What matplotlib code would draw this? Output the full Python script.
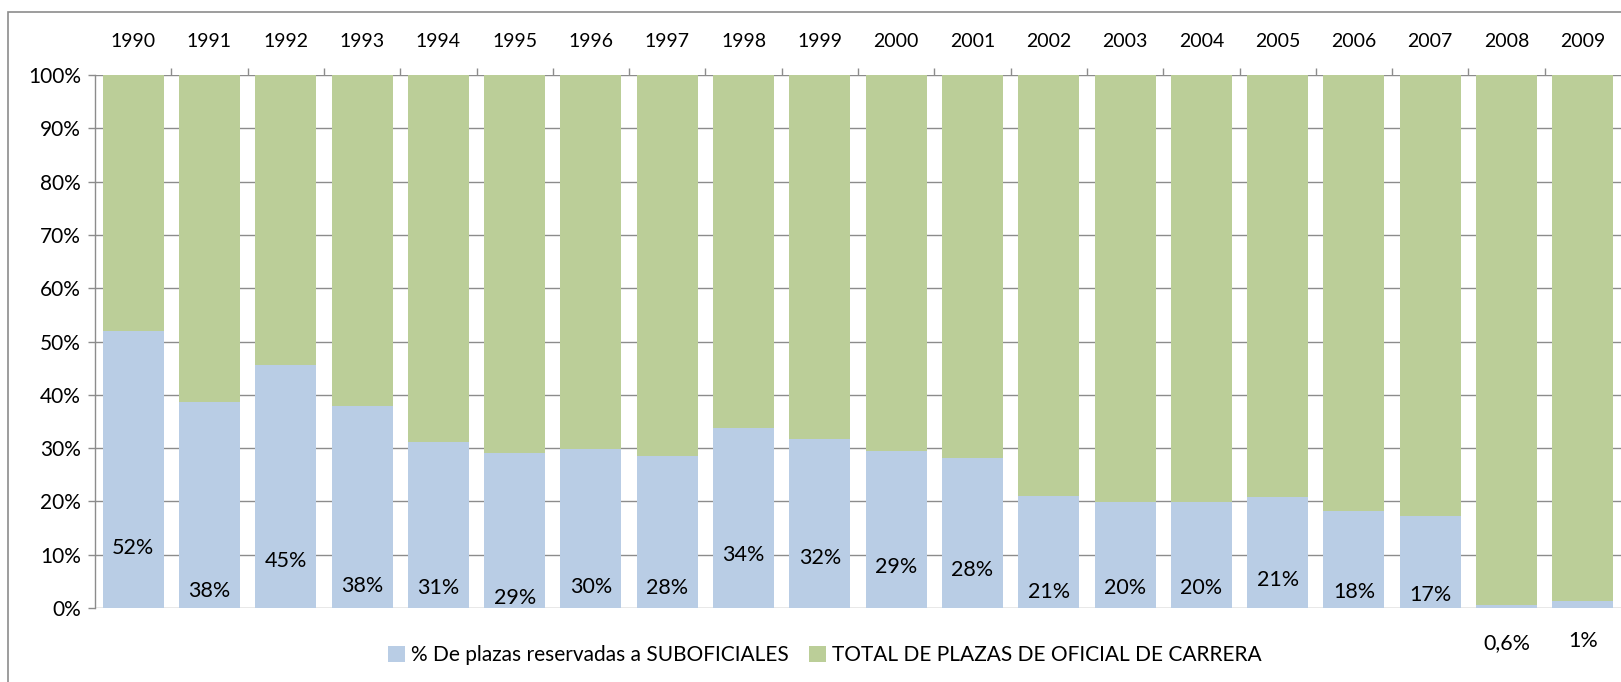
import numpy as np
import matplotlib
matplotlib.use("Agg")
import matplotlib.pyplot as plt
import matplotlib.patches as mpatches
from matplotlib.ticker import FixedLocator, FuncFormatter

# ── data ──────────────────────────────────────────────────────────────────────
years = [str(y) for y in range(1990, 2010)]
suboficiales = [52.0, 38.6, 45.6, 37.9, 31.1, 29.1, 29.8, 28.5, 33.8, 31.7,
                29.5, 28.1, 21.0, 19.9, 19.9, 20.8, 18.2, 17.3, 0.6, 1.3]
total_oficial = [100 - v for v in suboficiales]
label_text = ["52%", "38%", "45%", "38%", "31%", "29%", "30%", "28%", "34%", "32%",
              "29%", "28%", "21%", "20%", "20%", "21%", "18%", "17%", "0,6%", "1%"]
# vertical placement of the data labels (as in the original, hand-placed)
label_pos = [11.3, 3.2, 8.8, 4.1, 3.8, 1.9, 3.9, 3.8, 10.0, 9.3,
             7.6, 7.1, 3.0, 3.8, 3.8, 5.3, 3.0, 2.5, -6.5, -6.1]

BLUE  = "#B9CDE5"
GREEN = "#BBCE98"
GRID  = "#8C8C8C"

plt.rcParams["font.family"] = ["Lato", "DejaVu Sans"]

W, H = 1621, 682
fig = plt.figure(figsize=(W / 100, H / 100), dpi=100)
ax = fig.add_axes([95 / W, 1 - 608 / H, 1 - 95 / W, (608 - 75) / H])

x = np.arange(len(years))
ax.bar(x, suboficiales, width=0.8, color=BLUE, zorder=2,
       label="% De plazas reservadas a SUBOFICIALES")
ax.bar(x, total_oficial, width=0.8, bottom=suboficiales, color=GREEN, zorder=2,
       label="TOTAL DE PLAZAS DE OFICIAL DE CARRERA")

for xi, txt, yp in zip(x, label_text, label_pos):
    ax.text(xi, yp, txt, ha="center", va="center", fontsize=15.5,
            color="black", zorder=3, clip_on=False)

# axes styling
ax.set_xlim(-0.5, len(years) - 0.5)
ax.set_ylim(0, 100)
ax.set_yticks(np.arange(0, 101, 10))
ax.yaxis.set_major_formatter(FuncFormatter(lambda v, p: f"{int(v)}%"))
ax.grid(axis="y", color=GRID, linewidth=1.0, zorder=0)
ax.tick_params(axis="y", length=5, width=1, color=GRID, pad=5, labelsize=15)

ax.xaxis.tick_top()
ax.set_xticks(x)
ax.set_xticklabels(years)
ax.xaxis.set_minor_locator(FixedLocator(np.arange(0.5, len(years) - 0.5, 1)))
ax.tick_params(axis="x", which="major", length=0, pad=18, labelsize=14)
ax.tick_params(axis="x", which="minor", length=5, width=1, color=GRID, top=True, bottom=False)

for s in ["top", "right", "bottom"]:
    ax.spines[s].set_visible(False)
ax.spines["left"].set_color(GRID)
ax.spines["left"].set_linewidth(1.0)

# outer chart frame
frame = mpatches.Rectangle((8 / W, -0.05), 1.1, 1 - 12 / H + 0.05,
                           transform=fig.transFigure, fill=False,
                           edgecolor="#8C8C8C", linewidth=1.2, zorder=0)
fig.patches.append(frame)

handles, labels = ax.get_legend_handles_labels()
fig.legend(handles, labels, loc="center", bbox_to_anchor=(825 / W, 1 - 655 / H),
           ncol=2, frameon=False, fontsize=15, handlelength=0.8, handleheight=0.8,
           handletextpad=0.3, columnspacing=1.0)

fig.savefig("out.png", dpi=100)
